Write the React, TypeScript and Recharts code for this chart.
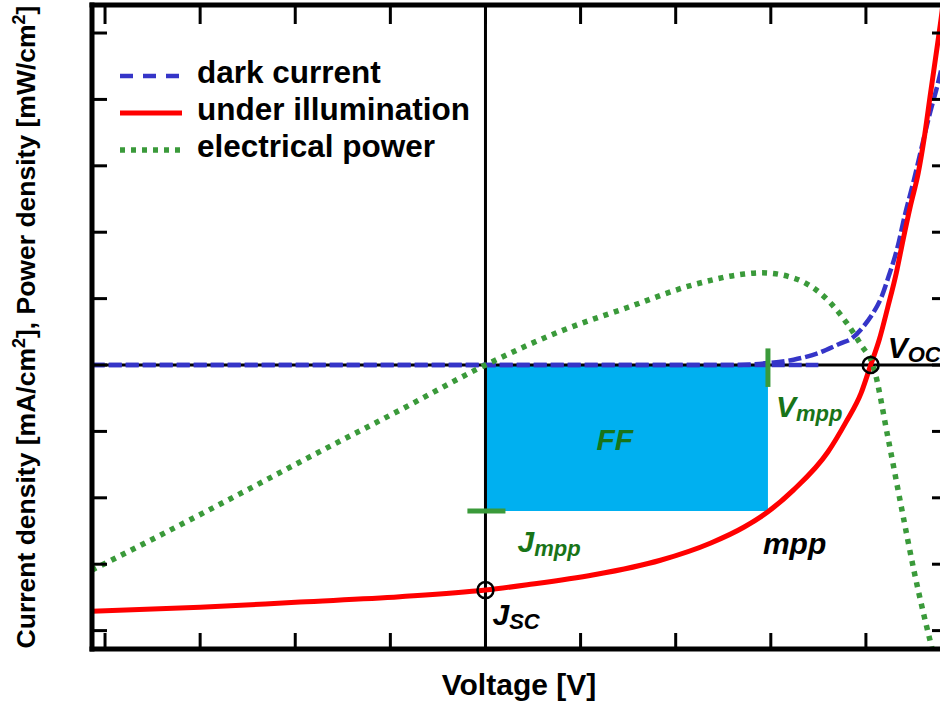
import {
  ComposedChart,
  Line,
  XAxis,
  YAxis,
  ReferenceLine,
  ReferenceArea,
  ReferenceDot,
  Legend,
} from 'recharts';

const FONT = '"Liberation Sans", Arial, Helvetica, sans-serif';

// x unit = one voltage tick, y unit = one current/power tick
const xDomain = [-4.137, 4.842];
const yDomain = [-4.277, 5.422];
const xTicks = [-4, -3, -2, -1, 0, 1, 2, 3, 4];
const yTicks = [-4, -3, -2, -1, 0, 1, 2, 3, 4, 5];

const darkV = [-4.14, 2.6, 2.97, 3.24, 3.5, 3.74, 3.84, 3.98, 4.07, 4.16, 4.24, 4.33, 4.41, 4.5, 4.58, 4.66, 4.75, 4.84];
const darkJ = [0, 0, 0.03, 0.08, 0.18, 0.33, 0.39, 0.59, 0.77, 1.01, 1.34, 1.76, 2.26, 2.76, 3.24, 3.72, 4.2, 4.74];

const darkFlatV = [-4.14, 3.5];
const darkFlatJ = [0, 0];

const lightV = [-4.14, -3.0, -1.95, -0.9, 0, 0.44, 1.14, 1.84, 2.37, 2.72, 2.97, 3.24, 3.6, 3.79, 3.95, 4.05, 4.14, 4.23, 4.32, 4.39, 4.47, 4.55, 4.61, 4.68, 4.76, 4.8, 4.84];
const lightJ = [-3.71, -3.65, -3.57, -3.49, -3.39, -3.31, -3.16, -2.94, -2.68, -2.44, -2.21, -1.88, -1.31, -0.86, -0.42, 0, 0.38, 0.87, 1.39, 1.88, 2.41, 2.89, 3.39, 4.1, 4.9, 5.32, 5.8];

const powerV = [-4.14, -3.32, -2.53, -1.95, -0.9, 0, 0.79, 1.5, 2.19, 2.72, 2.9, 3.24, 3.53, 3.8, 3.95, 4.08, 4.23, 4.37, 4.51, 4.7];
const powerP = [-3.09, -2.49, -1.9, -1.46, -0.68, 0, 0.51, 0.87, 1.21, 1.37, 1.39, 1.31, 1.07, 0.63, 0.3, -0.03, -1.08, -2.12, -3.13, -4.3];

const Jsc = -3.39;
const Voc = 4.05;
const Vmpp = 2.97;
const Jmpp = -2.2;

const seriesNames = ['dark current', 'under illumination', 'electrical power'];

const BLUE = '#3535c8';
const RED = '#ff0000';
const GREEN = '#3a9a3a';
const TEXT_GREEN = '#187418';

const zip = (xs: number[], ys: number[]) => xs.map((v, i) => ({ v, j: ys[i] }));

const darkData = zip(darkV, darkJ);
const darkFlatData = zip(darkFlatV, darkFlatJ);
const lightData = zip(lightV, lightJ);
const powerData = zip(powerV, powerP);

const legendStyles: Record<string, { width: number; dash?: string }> = {
  'dark current': { width: 4.5, dash: '13 10' },
  'under illumination': { width: 5 },
  'electrical power': { width: 5.5, dash: '5 6' },
};

const notes = [
  { x: Voc, y: 0, main: 'V', sub: 'OC', color: '#000', dx: 17, dy: -7, anchor: 'start' },
  { x: 0, y: Jsc, main: 'J', sub: 'SC', color: '#000', dx: 7, dy: 35, anchor: 'start' },
  { x: Vmpp, y: 0, main: 'V', sub: 'mpp', color: TEXT_GREEN, dx: 8, dy: 52, anchor: 'start' },
  { x: 0, y: Jmpp, main: 'J', sub: 'mpp', color: TEXT_GREEN, dx: 32, dy: 41, anchor: 'start' },
  { x: Vmpp, y: Jmpp, main: 'mpp', sub: '', color: '#000', dx: -5, dy: 43, anchor: 'start' },
  { x: Vmpp / 2, y: Jmpp / 2, main: 'FF', sub: '', color: TEXT_GREEN, dx: -12, dy: 12, anchor: 'middle' },
];

const axisLine = { stroke: '#000', strokeWidth: 5, strokeLinecap: 'square' as const };
const tickLine = { stroke: '#000', strokeWidth: 3 };
const noTick = () => <g />;

function XTitle(props: any) {
  const { viewBox } = props;
  return (
    <text
      x={viewBox.x + viewBox.width / 2}
      y={viewBox.y + 46}
      textAnchor="middle"
      fontFamily={FONT}
      fontWeight="bold"
      fontSize={30}
      fill="#000"
    >
      Voltage [V]
    </text>
  );
}

function YTitle(props: any) {
  const { viewBox } = props;
  const cx = 35;
  const cy = viewBox.y + viewBox.height / 2;
  return (
    <text
      x={cx}
      y={cy}
      transform={`rotate(-90, ${cx}, ${cy})`}
      textAnchor="middle"
      fontFamily={FONT}
      fontWeight="bold"
      fontSize={26.5}
      fill="#000"
    >
      <tspan>Current density [mA/cm</tspan>
      <tspan dy={-10} fontSize={18}>2</tspan>
      <tspan dy={10}>], Power density [mW/cm</tspan>
      <tspan dy={-10} fontSize={18}>2</tspan>
      <tspan dy={10}>]</tspan>
    </text>
  );
}

function noteLabel(n: (typeof notes)[number]) {
  return (props: any) => {
    const { viewBox } = props;
    const cx = viewBox.x + viewBox.width / 2;
    const cy = viewBox.y + viewBox.height / 2;
    return (
      <text
        x={cx + n.dx}
        y={cy + n.dy}
        textAnchor={n.anchor as any}
        fill={n.color}
        fontFamily={FONT}
        fontWeight="bold"
        fontStyle="italic"
        fontSize={30}
      >
        {n.main}
        {n.sub ? (
          <tspan fontSize={22} dy={4}>
            {n.sub}
          </tspan>
        ) : null}
      </text>
    );
  };
}

function LegendBox(props: any) {
  const payload = (props.payload || [])
    .filter((p: any) => seriesNames.includes(p.value))
    .sort((a: any, b: any) => seriesNames.indexOf(a.value) - seriesNames.indexOf(b.value));
  return (
    <div style={{ display: 'flex', flexDirection: 'column' }}>
      {payload.map((e: any) => {
        const st = legendStyles[e.value];
        return (
          <div key={e.value} style={{ display: 'flex', alignItems: 'flex-start', height: 37 }}>
            <svg width={64} height={10} style={{ marginTop: 17 }}>
              <line x1={1} y1={5} x2={63} y2={5} stroke={e.color} strokeWidth={st.width} strokeDasharray={st.dash} />
            </svg>
            <span
              style={{
                marginLeft: 14,
                fontFamily: FONT,
                fontWeight: 'bold',
                fontSize: 31.5,
                lineHeight: '37px',
                color: '#000',
                whiteSpace: 'nowrap',
              }}
            >
              {e.value}
            </span>
          </div>
        );
      })}
    </div>
  );
}

export default function App() {
  return (
    <div
      style={{
        position: 'fixed',
        left: 0,
        top: 0,
        width: 940,
        height: 706,
        overflow: 'hidden',
        background: '#fff',
        fontFamily: FONT,
      }}
    >
      <ComposedChart width={960} height={706} margin={{ top: 0, right: 0, bottom: 0, left: 0 }}>
        <XAxis
          dataKey="v"
          type="number"
          domain={xDomain}
          ticks={xTicks}
          interval={0}
          allowDataOverflow
          height={57}
          tick={noTick}
          tickSize={-16}
          tickLine={tickLine}
          axisLine={axisLine}
          label={XTitle}
        />
        <XAxis
          xAxisId="top"
          orientation="top"
          dataKey="v"
          type="number"
          domain={xDomain}
          ticks={xTicks}
          interval={0}
          allowDataOverflow
          height={5}
          tick={noTick}
          tickSize={-19}
          tickLine={tickLine}
          axisLine={axisLine}
        />
        <YAxis
          type="number"
          domain={yDomain}
          ticks={yTicks}
          interval={0}
          allowDataOverflow
          width={92}
          tick={noTick}
          tickSize={-15}
          tickLine={tickLine}
          axisLine={axisLine}
          label={YTitle}
        />
        <YAxis
          yAxisId="right"
          orientation="right"
          type="number"
          domain={yDomain}
          ticks={yTicks}
          interval={0}
          allowDataOverflow
          width={14}
          tick={noTick}
          tickSize={-14}
          tickLine={tickLine}
          axisLine={axisLine}
        />

        <ReferenceArea x1={0} x2={Vmpp} y1={Jmpp} y2={0} fill="#00b0f0" fillOpacity={1} stroke="none" />
        <ReferenceLine y={0} stroke="#000" strokeWidth={3} />
        <ReferenceLine x={0} stroke="#000" strokeWidth={3} />

        <Line
          data={darkFlatData}
          dataKey="j"
          name="dark flat"
          legendType="none"
          type="linear"
          stroke={BLUE}
          strokeWidth={4.5}
          strokeDasharray="13 4"
          dot={false}
          activeDot={false}
          isAnimationActive={false}
        />
        <Line
          data={darkData}
          dataKey="j"
          name={seriesNames[0]}
          type="monotone"
          stroke={BLUE}
          strokeWidth={4.5}
          strokeDasharray="13 4"
          dot={false}
          activeDot={false}
          isAnimationActive={false}
        />
        <Line
          data={lightData}
          dataKey="j"
          name={seriesNames[1]}
          type="monotone"
          stroke={RED}
          strokeWidth={5}
          dot={false}
          activeDot={false}
          isAnimationActive={false}
        />
        <Line
          data={powerData}
          dataKey="j"
          name={seriesNames[2]}
          type="monotone"
          stroke={GREEN}
          strokeWidth={5.5}
          strokeDasharray="5 6"
          dot={false}
          activeDot={false}
          isAnimationActive={false}
        />

        <ReferenceLine
          segment={[
            { x: Vmpp, y: 0.25 },
            { x: Vmpp, y: -0.33 },
          ]}
          stroke={GREEN}
          strokeWidth={5}
        />
        <ReferenceLine
          segment={[
            { x: -0.19, y: Jmpp },
            { x: 0.21, y: Jmpp },
          ]}
          stroke={GREEN}
          strokeWidth={5}
        />

        <ReferenceDot x={0} y={Jsc} r={8} fill="none" stroke="#000" strokeWidth={2.5} />
        <ReferenceDot x={Voc} y={0} r={8} fill="none" stroke="#000" strokeWidth={2.5} />

        {notes.map((n) => (
          <ReferenceDot
            key={n.main + n.sub}
            x={n.x}
            y={n.y}
            r={0}
            fill="none"
            stroke="none"
            label={noteLabel(n)}
          />
        ))}

        <Legend
          layout="vertical"
          align="center"
          verticalAlign="middle"
          wrapperStyle={{ top: 54, left: 119, width: 'auto', height: 'auto' }}
          content={LegendBox}
        />
      </ComposedChart>
    </div>
  );
}
